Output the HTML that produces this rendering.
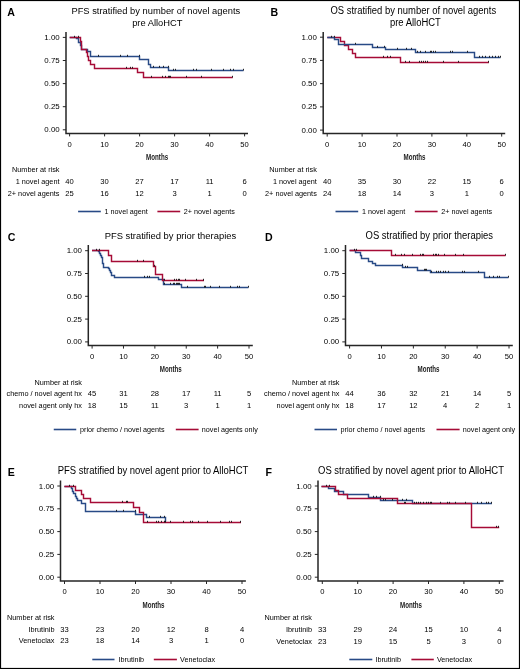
<!DOCTYPE html>
<html><head><meta charset="utf-8"><style>
html,body{margin:0;padding:0;background:#fff;}
body{width:520px;height:669px;overflow:hidden;}
svg{display:block;will-change:transform;filter:blur(0.3px);}
text{font-family:"Liberation Sans",sans-serif;fill:#000;}
.lab{font-size:10.6px;font-weight:bold;fill:#000;}
.tt{font-size:9.4px;text-anchor:middle;}
.yl{font-size:7.9px;text-anchor:end;}
.xl{font-size:7.6px;text-anchor:middle;}
.mo{font-size:9px;text-anchor:middle;font-weight:bold;fill:#222;}
.rl{font-size:7.3px;text-anchor:end;}
.rn{font-size:7.6px;text-anchor:middle;}
.lg{font-size:7.2px;}
.axl{stroke:#262626;stroke-width:1.5;fill:none;}
.tk{stroke:#262626;stroke-width:1;fill:none;}
.cv{stroke-width:1.45;fill:none;}
.cs{stroke:#111;stroke-width:0.9;fill:none;}
</style></head><body>
<svg width="520" height="669" viewBox="0 0 520 669">
<rect x="0.5" y="0.5" width="519" height="668" fill="#fff" stroke="#000" stroke-width="1.2"/>
<text x="7.3" y="16" class="lab">A</text>
<text transform="translate(155.8 14.3) scale(1 1.06)" class="tt" style="font-size:9.35px">PFS stratified by number of novel agents</text>
<text transform="translate(157.3 25.9) scale(1 1.06)" class="tt" style="font-size:9.35px">pre AlloHCT</text>
<path d="M66 32V133.4H248" class="axl"/>
<path d="M62.8 129.8H66" class="tk"/>
<text x="59.7" y="132.3" class="yl">0.00</text>
<path d="M62.8 106.7H66" class="tk"/>
<text x="59.7" y="109.2" class="yl">0.25</text>
<path d="M62.8 83.6H66" class="tk"/>
<text x="59.7" y="86.1" class="yl">0.50</text>
<path d="M62.8 60.5H66" class="tk"/>
<text x="59.7" y="63" class="yl">0.75</text>
<path d="M62.8 37.4H66" class="tk"/>
<text x="59.7" y="39.9" class="yl">1.00</text>
<path d="M69.6 133.4V136.4" class="tk"/>
<text x="69.6" y="146.8" class="xl">0</text>
<path d="M104.6 133.4V136.4" class="tk"/>
<text x="104.6" y="146.8" class="xl">10</text>
<path d="M139.6 133.4V136.4" class="tk"/>
<text x="139.6" y="146.8" class="xl">20</text>
<path d="M174.6 133.4V136.4" class="tk"/>
<text x="174.6" y="146.8" class="xl">30</text>
<path d="M209.6 133.4V136.4" class="tk"/>
<text x="209.6" y="146.8" class="xl">40</text>
<path d="M244.6 133.4V136.4" class="tk"/>
<text x="244.6" y="146.8" class="xl">50</text>
<text transform="translate(157.1 160.1) scale(0.69 1)" class="mo">Months</text>
<text x="59.5" y="172.1" class="rl">Number at risk</text>
<text x="59.5" y="184" class="rl">1 novel agent</text>
<text x="69.6" y="184" class="rn">40</text>
<text x="104.6" y="184" class="rn">30</text>
<text x="139.6" y="184" class="rn">27</text>
<text x="174.6" y="184" class="rn">17</text>
<text x="209.6" y="184" class="rn">11</text>
<text x="244.6" y="184" class="rn">6</text>
<text x="59.5" y="195.7" class="rl">2+ novel agents</text>
<text x="69.6" y="195.7" class="rn">25</text>
<text x="104.6" y="195.7" class="rn">16</text>
<text x="139.6" y="195.7" class="rn">12</text>
<text x="174.6" y="195.7" class="rn">3</text>
<text x="209.6" y="195.7" class="rn">1</text>
<text x="244.6" y="195.7" class="rn">0</text>
<path d="M78.1 211.5H100.8" stroke="#284a86" stroke-width="1.6" fill="none"/>
<text x="104.6" y="213.7" class="lg">1 novel agent</text>
<path d="M157.4 211.5H180.2" stroke="#a60b36" stroke-width="1.6" fill="none"/>
<text x="183.8" y="213.7" class="lg">2+ novel agents</text>
<path d="M69.7 37.5H76.5V38.5H78.5V42.5H80.5V45.5H81.5V49.5H87.5V51.5H90.5V56.5H139.5V59.5H148.5V64.5H150.5V67.5H168.5V70.5H243.5" stroke="#284a86" class="cv"/>
<path d="M69.7 37.5H80.5V41.5H81.5V49.5H86.5V52.5H87.5V56.5H88.5V60.5H90.5V64.5H94.5V68.5H137.5V72.5H143.5V77.5H232.7" stroke="#a60b36" class="cv"/>
<path d="M98.5 54.8v1.7M120.5 54.8v1.7M127.5 54.8v1.7M139.5 54.8v1.7M153.5 65.8v1.7M159.5 65.8v1.7M163.5 65.8v1.7M168.5 65.8v1.7M173.5 68.8v1.7M175.5 68.8v1.7M193.5 68.8v1.7M196.5 68.8v1.7M211.5 68.8v1.7M223.5 68.8v1.7M230.5 68.8v1.7M233.5 68.8v1.7M243.5 68.8v1.7M74.5 35.8v1.7M78.5 35.8v1.7M126.5 66.8v1.7M130.5 66.8v1.7M132.5 66.8v1.7M151.5 75.8v1.7M162.5 75.8v1.7M165.5 75.8v1.7M168.5 75.8v1.7M169.5 75.8v1.7M170.5 75.8v1.7M186.5 75.8v1.7M201.5 75.8v1.7M232.5 75.8v1.7" class="cs"/>
<text x="270.5" y="15.8" class="lab">B</text>
<text transform="translate(413.3 14.3) scale(1 1.06)" class="tt" style="font-size:9.45px">OS stratified by number of novel agents</text>
<text transform="translate(415.4 25.9) scale(1 1.06)" class="tt" style="font-size:9.45px">pre AlloHCT</text>
<path d="M323.2 32V133.6H505.2" class="axl"/>
<path d="M320 130.1H323.2" class="tk"/>
<text x="316.9" y="132.6" class="yl">0.00</text>
<path d="M320 106.88H323.2" class="tk"/>
<text x="316.9" y="109.38" class="yl">0.25</text>
<path d="M320 83.65H323.2" class="tk"/>
<text x="316.9" y="86.15" class="yl">0.50</text>
<path d="M320 60.42H323.2" class="tk"/>
<text x="316.9" y="62.92" class="yl">0.75</text>
<path d="M320 37.2H323.2" class="tk"/>
<text x="316.9" y="39.7" class="yl">1.00</text>
<path d="M327.2 133.6V136.6" class="tk"/>
<text x="327.2" y="147" class="xl">0</text>
<path d="M362.1 133.6V136.6" class="tk"/>
<text x="362.1" y="147" class="xl">10</text>
<path d="M397 133.6V136.6" class="tk"/>
<text x="397" y="147" class="xl">20</text>
<path d="M431.9 133.6V136.6" class="tk"/>
<text x="431.9" y="147" class="xl">30</text>
<path d="M466.8 133.6V136.6" class="tk"/>
<text x="466.8" y="147" class="xl">40</text>
<path d="M501.7 133.6V136.6" class="tk"/>
<text x="501.7" y="147" class="xl">50</text>
<text transform="translate(414.5 160.1) scale(0.69 1)" class="mo">Months</text>
<text x="316.8" y="172.1" class="rl">Number at risk</text>
<text x="316.8" y="184" class="rl">1 novel agent</text>
<text x="327.2" y="184" class="rn">40</text>
<text x="362.1" y="184" class="rn">35</text>
<text x="397" y="184" class="rn">30</text>
<text x="431.9" y="184" class="rn">22</text>
<text x="466.8" y="184" class="rn">15</text>
<text x="501.7" y="184" class="rn">6</text>
<text x="316.8" y="195.7" class="rl">2+ novel agents</text>
<text x="327.2" y="195.7" class="rn">24</text>
<text x="362.1" y="195.7" class="rn">18</text>
<text x="397" y="195.7" class="rn">14</text>
<text x="431.9" y="195.7" class="rn">3</text>
<text x="466.8" y="195.7" class="rn">1</text>
<text x="501.7" y="195.7" class="rn">0</text>
<path d="M335.5 211.5H358.2" stroke="#284a86" stroke-width="1.6" fill="none"/>
<text x="362" y="213.7" class="lg">1 novel agent</text>
<path d="M414.8 211.5H437.6" stroke="#a60b36" stroke-width="1.6" fill="none"/>
<text x="441.2" y="213.7" class="lg">2+ novel agents</text>
<path d="M327.3 37.5H340.5V41.5H344.5V45.5H348.5V49.5H352.5V53.5H355.5V57.5H400.5V62.5H488.9" stroke="#a60b36" class="cv"/>
<path d="M327.3 37.5H334.5V39.5H338.5V44.5H372.5V47.5H385.5V49.5H415.5V52.5H474.5V57.5H500.5" stroke="#284a86" class="cv"/>
<path d="M383.5 55.8v1.7M387.5 55.8v1.7M390.5 55.8v1.7M405.5 60.8v1.7M409.5 60.8v1.7M419.5 60.8v1.7M421.5 60.8v1.7M423.5 60.8v1.7M425.5 60.8v1.7M427.5 60.8v1.7M443.5 60.8v1.7M458.5 60.8v1.7M488.5 60.8v1.7M331.5 35.8v1.7M334.5 35.8v1.7M355.5 42.8v1.7M377.5 45.8v1.7M384.5 45.8v1.7M397.5 47.8v1.7M406.5 47.8v1.7M411.5 47.8v1.7M417.5 50.8v1.7M420.5 50.8v1.7M425.5 50.8v1.7M430.5 50.8v1.7M431.5 50.8v1.7M433.5 50.8v1.7M435.5 50.8v1.7M450.5 50.8v1.7M452.5 50.8v1.7M467.5 50.8v1.7M479.5 55.8v1.7M482.5 55.8v1.7M485.5 55.8v1.7M489.5 55.8v1.7M492.5 55.8v1.7M495.5 55.8v1.7M498.5 55.8v1.7M500.5 55.8v1.7" class="cs"/>
<text x="7.7" y="241.3" class="lab">C</text>
<text transform="translate(170.4 239.2) scale(1 1.06)" class="tt" style="font-size:9.4px">PFS stratified by prior therapies</text>
<path d="M88.3 245V345.6H252.8" class="axl"/>
<path d="M85.1 341.9H88.3" class="tk"/>
<text x="82" y="344.4" class="yl">0.00</text>
<path d="M85.1 319.1H88.3" class="tk"/>
<text x="82" y="321.6" class="yl">0.25</text>
<path d="M85.1 296.3H88.3" class="tk"/>
<text x="82" y="298.8" class="yl">0.50</text>
<path d="M85.1 273.5H88.3" class="tk"/>
<text x="82" y="276" class="yl">0.75</text>
<path d="M85.1 250.7H88.3" class="tk"/>
<text x="82" y="253.2" class="yl">1.00</text>
<path d="M92.1 345.6V348.6" class="tk"/>
<text x="92.1" y="359" class="xl">0</text>
<path d="M123.48 345.6V348.6" class="tk"/>
<text x="123.48" y="359" class="xl">10</text>
<path d="M154.86 345.6V348.6" class="tk"/>
<text x="154.86" y="359" class="xl">20</text>
<path d="M186.24 345.6V348.6" class="tk"/>
<text x="186.24" y="359" class="xl">30</text>
<path d="M217.62 345.6V348.6" class="tk"/>
<text x="217.62" y="359" class="xl">40</text>
<path d="M249 345.6V348.6" class="tk"/>
<text x="249" y="359" class="xl">50</text>
<text transform="translate(170.8 372.2) scale(0.69 1)" class="mo">Months</text>
<text x="82" y="384.9" class="rl">Number at risk</text>
<text x="82" y="396.3" class="rl">chemo / novel agent hx</text>
<text x="92.1" y="396.3" class="rn">45</text>
<text x="123.48" y="396.3" class="rn">31</text>
<text x="154.86" y="396.3" class="rn">28</text>
<text x="186.24" y="396.3" class="rn">17</text>
<text x="217.62" y="396.3" class="rn">11</text>
<text x="249" y="396.3" class="rn">5</text>
<text x="82" y="407.7" class="rl">novel agent only hx</text>
<text x="92.1" y="407.7" class="rn">18</text>
<text x="123.48" y="407.7" class="rn">15</text>
<text x="154.86" y="407.7" class="rn">11</text>
<text x="186.24" y="407.7" class="rn">3</text>
<text x="217.62" y="407.7" class="rn">1</text>
<text x="249" y="407.7" class="rn">1</text>
<path d="M53.75 429.5H76.25" stroke="#284a86" stroke-width="1.6" fill="none"/>
<text x="80" y="431.8" class="lg">prior chemo / novel agents</text>
<path d="M175.8 429.5H198.6" stroke="#a60b36" stroke-width="1.6" fill="none"/>
<text x="201.8" y="431.8" class="lg">novel agents only</text>
<path d="M92 250.5H98.5V251.5H99.5V253.5H100.5V255.5H101.5V257.5H102.5V260.5H102.5V263.5H103.5V267.5H108.5V268.5H109.5V270.5H110.5V272.5H111.5V275.5H114.5V277.5H158.5V279.5H163.5V284.5H181.5V287.5H248.4" stroke="#284a86" class="cv"/>
<path d="M92 250.5H108.5V255.5H111.5V261.5H153.5V266.5H155.5V274.5H162.5V280.5H204" stroke="#a60b36" class="cv"/>
<path d="M144.5 275.8v1.7M147.5 275.8v1.7M149.5 275.8v1.7M164.5 282.8v1.7M170.5 282.8v1.7M173.5 282.8v1.7M174.5 282.8v1.7M176.5 282.8v1.7M177.5 282.8v1.7M178.5 282.8v1.7M179.5 282.8v1.7M187.5 285.8v1.7M204.5 285.8v1.7M205.5 285.8v1.7M210.5 285.8v1.7M219.5 285.8v1.7M230.5 285.8v1.7M237.5 285.8v1.7M239.5 285.8v1.7M248.5 285.8v1.7M96.5 248.8v1.7M99.5 248.8v1.7M137.5 259.8v1.7M143.5 259.8v1.7M154.5 264.8v1.7M164.5 278.8v1.7M174.5 278.8v1.7M176.5 278.8v1.7M178.5 278.8v1.7M179.5 278.8v1.7M185.5 278.8v1.7M196.5 278.8v1.7M203.5 278.8v1.7" class="cs"/>
<text x="265" y="241.3" class="lab">D</text>
<text transform="translate(429.25 239.2) scale(1 1.06)" class="tt" style="font-size:9.45px">OS stratified by prior therapies</text>
<path d="M345.5 245V345.5H512.8" class="axl"/>
<path d="M342.3 341.9H345.5" class="tk"/>
<text x="339.2" y="344.4" class="yl">0.00</text>
<path d="M342.3 319.1H345.5" class="tk"/>
<text x="339.2" y="321.6" class="yl">0.25</text>
<path d="M342.3 296.3H345.5" class="tk"/>
<text x="339.2" y="298.8" class="yl">0.50</text>
<path d="M342.3 273.5H345.5" class="tk"/>
<text x="339.2" y="276" class="yl">0.75</text>
<path d="M342.3 250.7H345.5" class="tk"/>
<text x="339.2" y="253.2" class="yl">1.00</text>
<path d="M349.6 345.5V348.5" class="tk"/>
<text x="349.6" y="358.9" class="xl">0</text>
<path d="M381.48 345.5V348.5" class="tk"/>
<text x="381.48" y="358.9" class="xl">10</text>
<path d="M413.36 345.5V348.5" class="tk"/>
<text x="413.36" y="358.9" class="xl">20</text>
<path d="M445.24 345.5V348.5" class="tk"/>
<text x="445.24" y="358.9" class="xl">30</text>
<path d="M477.12 345.5V348.5" class="tk"/>
<text x="477.12" y="358.9" class="xl">40</text>
<path d="M509 345.5V348.5" class="tk"/>
<text x="509" y="358.9" class="xl">50</text>
<text transform="translate(428.5 372.2) scale(0.69 1)" class="mo">Months</text>
<text x="339.5" y="384.9" class="rl">Number at risk</text>
<text x="339.5" y="396.3" class="rl">chemo / novel agent hx</text>
<text x="349.6" y="396.3" class="rn">44</text>
<text x="381.48" y="396.3" class="rn">36</text>
<text x="413.36" y="396.3" class="rn">32</text>
<text x="445.24" y="396.3" class="rn">21</text>
<text x="477.12" y="396.3" class="rn">14</text>
<text x="509" y="396.3" class="rn">5</text>
<text x="339.5" y="407.7" class="rl">novel agent only hx</text>
<text x="349.6" y="407.7" class="rn">18</text>
<text x="381.48" y="407.7" class="rn">17</text>
<text x="413.36" y="407.7" class="rn">12</text>
<text x="445.24" y="407.7" class="rn">4</text>
<text x="477.12" y="407.7" class="rn">2</text>
<text x="509" y="407.7" class="rn">1</text>
<path d="M314.5 429.5H337" stroke="#284a86" stroke-width="1.6" fill="none"/>
<text x="340.5" y="431.8" class="lg">prior chemo / novel agents</text>
<path d="M436.5 429.5H459.6" stroke="#a60b36" stroke-width="1.6" fill="none"/>
<text x="462.8" y="431.8" class="lg">novel agent only</text>
<path d="M349.6 250.5H355.5V252.5H360.5V255.5H361.5V258.5H368.5V261.5H372.5V263.5H375.5V265.5H402.5V267.5H417.5V270.5H430.5V272.5H484.5V277.5H508.5" stroke="#284a86" class="cv"/>
<path d="M349.6 250.5H391.5V255.5H505.6" stroke="#a60b36" class="cv"/>
<path d="M402.5 263.8v1.7M405.5 265.8v1.7M407.5 265.8v1.7M424.5 268.8v1.7M425.5 268.8v1.7M426.5 268.8v1.7M431.5 270.8v1.7M436.5 270.8v1.7M438.5 270.8v1.7M440.5 270.8v1.7M443.5 270.8v1.7M445.5 270.8v1.7M448.5 270.8v1.7M462.5 270.8v1.7M464.5 270.8v1.7M478.5 270.8v1.7M489.5 275.8v1.7M493.5 275.8v1.7M497.5 275.8v1.7M499.5 275.8v1.7M508.5 275.8v1.7M354.5 248.8v1.7M356.5 248.8v1.7M395.5 253.8v1.7M401.5 253.8v1.7M404.5 253.8v1.7M412.5 253.8v1.7M420.5 253.8v1.7M422.5 253.8v1.7M423.5 253.8v1.7M433.5 253.8v1.7M435.5 253.8v1.7M436.5 253.8v1.7M438.5 253.8v1.7M444.5 253.8v1.7M455.5 253.8v1.7M463.5 253.8v1.7M505.5 253.8v1.7" class="cs"/>
<text x="7.7" y="475.8" class="lab">E</text>
<text transform="translate(153 474.4) scale(1 1.06)" class="tt" style="font-size:9.5px">PFS stratified by novel agent prior to AlloHCT</text>
<path d="M60.5 480.4V581H245.9" class="axl"/>
<path d="M57.3 577.2H60.5" class="tk"/>
<text x="54.2" y="579.7" class="yl">0.00</text>
<path d="M57.3 554.4H60.5" class="tk"/>
<text x="54.2" y="556.9" class="yl">0.25</text>
<path d="M57.3 531.6H60.5" class="tk"/>
<text x="54.2" y="534.1" class="yl">0.50</text>
<path d="M57.3 508.8H60.5" class="tk"/>
<text x="54.2" y="511.3" class="yl">0.75</text>
<path d="M57.3 486H60.5" class="tk"/>
<text x="54.2" y="488.5" class="yl">1.00</text>
<path d="M64.5 581V584" class="tk"/>
<text x="64.5" y="594.4" class="xl">0</text>
<path d="M100 581V584" class="tk"/>
<text x="100" y="594.4" class="xl">10</text>
<path d="M135.5 581V584" class="tk"/>
<text x="135.5" y="594.4" class="xl">20</text>
<path d="M171 581V584" class="tk"/>
<text x="171" y="594.4" class="xl">30</text>
<path d="M206.5 581V584" class="tk"/>
<text x="206.5" y="594.4" class="xl">40</text>
<path d="M242 581V584" class="tk"/>
<text x="242" y="594.4" class="xl">50</text>
<text transform="translate(153.5 607.5) scale(0.69 1)" class="mo">Months</text>
<text x="54.5" y="619.9" class="rl">Number at risk</text>
<text x="54.5" y="631.6" class="rl">Ibrutinib</text>
<text x="64.5" y="631.6" class="rn">33</text>
<text x="100" y="631.6" class="rn">23</text>
<text x="135.5" y="631.6" class="rn">20</text>
<text x="171" y="631.6" class="rn">12</text>
<text x="206.5" y="631.6" class="rn">8</text>
<text x="242" y="631.6" class="rn">4</text>
<text x="54.5" y="643" class="rl">Venetoclax</text>
<text x="64.5" y="643" class="rn">23</text>
<text x="100" y="643" class="rn">18</text>
<text x="135.5" y="643" class="rn">14</text>
<text x="171" y="643" class="rn">3</text>
<text x="206.5" y="643" class="rn">1</text>
<text x="242" y="643" class="rn">0</text>
<path d="M92.3 659.5H114.5" stroke="#284a86" stroke-width="1.6" fill="none"/>
<text x="118.5" y="662.1" class="lg">Ibrutinib</text>
<path d="M153.8 659.5H176.9" stroke="#a60b36" stroke-width="1.6" fill="none"/>
<text x="180" y="662.1" class="lg">Venetoclax</text>
<path d="M64.4 486.5H71.5V488.5H72.5V491.5H73.5V493.5H75.5V496.5H76.5V498.5H77.5V500.5H81.5V503.5H85.5V511.5H135.5V514.5H146.5V517.5H165.5V521.5H165.8" stroke="#284a86" class="cv"/>
<path d="M64.4 486.5H75.5V490.5H81.5V494.5H83.5V498.5H90.5V502.5H133.5V507.5H139.5V512.5H143.5V522.5H241" stroke="#a60b36" class="cv"/>
<path d="M116.5 509.8v1.7M123.5 509.8v1.7M135.5 509.8v1.7M149.5 515.8v1.7M160.5 515.8v1.7M164.5 515.8v1.7M69.5 484.8v1.7M73.5 484.8v1.7M122.5 500.8v1.7M126.5 500.8v1.7M127.5 500.8v1.7M147.5 520.8v1.7M156.5 520.8v1.7M158.5 520.8v1.7M161.5 520.8v1.7M164.5 520.8v1.7M165.5 520.8v1.7M170.5 520.8v1.7M183.5 520.8v1.7M190.5 520.8v1.7M192.5 520.8v1.7M198.5 520.8v1.7M207.5 520.8v1.7M220.5 520.8v1.7M229.5 520.8v1.7M231.5 520.8v1.7M240.5 520.8v1.7" class="cs"/>
<text x="265.5" y="475.8" class="lab">F</text>
<text transform="translate(411 474.4) scale(1 1.06)" class="tt" style="font-size:9.5px">OS stratified by novel agent prior to AlloHCT</text>
<path d="M318 480.4V581H503.6" class="axl"/>
<path d="M314.8 577.2H318" class="tk"/>
<text x="311.7" y="579.7" class="yl">0.00</text>
<path d="M314.8 554.4H318" class="tk"/>
<text x="311.7" y="556.9" class="yl">0.25</text>
<path d="M314.8 531.6H318" class="tk"/>
<text x="311.7" y="534.1" class="yl">0.50</text>
<path d="M314.8 508.8H318" class="tk"/>
<text x="311.7" y="511.3" class="yl">0.75</text>
<path d="M314.8 486H318" class="tk"/>
<text x="311.7" y="488.5" class="yl">1.00</text>
<path d="M322.3 581V584" class="tk"/>
<text x="322.3" y="594.4" class="xl">0</text>
<path d="M357.7 581V584" class="tk"/>
<text x="357.7" y="594.4" class="xl">10</text>
<path d="M393.1 581V584" class="tk"/>
<text x="393.1" y="594.4" class="xl">20</text>
<path d="M428.5 581V584" class="tk"/>
<text x="428.5" y="594.4" class="xl">30</text>
<path d="M463.9 581V584" class="tk"/>
<text x="463.9" y="594.4" class="xl">40</text>
<path d="M499.3 581V584" class="tk"/>
<text x="499.3" y="594.4" class="xl">50</text>
<text transform="translate(411 607.5) scale(0.69 1)" class="mo">Months</text>
<text x="312" y="619.9" class="rl">Number at risk</text>
<text x="312" y="631.6" class="rl">Ibrutinib</text>
<text x="322.3" y="631.6" class="rn">33</text>
<text x="357.7" y="631.6" class="rn">29</text>
<text x="393.1" y="631.6" class="rn">24</text>
<text x="428.5" y="631.6" class="rn">15</text>
<text x="463.9" y="631.6" class="rn">10</text>
<text x="499.3" y="631.6" class="rn">4</text>
<text x="312" y="643.8" class="rl">Venetoclax</text>
<text x="322.3" y="643.8" class="rn">23</text>
<text x="357.7" y="643.8" class="rn">19</text>
<text x="393.1" y="643.8" class="rn">15</text>
<text x="428.5" y="643.8" class="rn">5</text>
<text x="463.9" y="643.8" class="rn">3</text>
<text x="499.3" y="643.8" class="rn">0</text>
<path d="M349.3 659.5H372.3" stroke="#284a86" stroke-width="1.6" fill="none"/>
<text x="375.4" y="662.1" class="lg">Ibrutinib</text>
<path d="M411.4 659.5H433.8" stroke="#a60b36" stroke-width="1.6" fill="none"/>
<text x="436.9" y="662.1" class="lg">Venetoclax</text>
<path d="M321.5 486.5H328.5V488.5H334.5V491.5H343.5V494.5H368.5V497.5H380.5V500.5H412.5V503.5H491.9" stroke="#284a86" class="cv"/>
<path d="M321.5 486.5H335.5V490.5H338.5V494.5H347.5V498.5H397.5V503.5H471.5V527.5H499.2" stroke="#a60b36" class="cv"/>
<path d="M373.5 495.8v1.7M376.5 495.8v1.7M380.5 495.8v1.7M383.5 498.8v1.7M385.5 498.8v1.7M392.5 498.8v1.7M402.5 498.8v1.7M406.5 498.8v1.7M477.5 501.8v1.7M481.5 501.8v1.7M486.5 501.8v1.7M488.5 501.8v1.7M491.5 501.8v1.7M326.5 484.8v1.7M329.5 484.8v1.7M404.5 501.8v1.7M405.5 501.8v1.7M414.5 501.8v1.7M416.5 501.8v1.7M418.5 501.8v1.7M420.5 501.8v1.7M423.5 501.8v1.7M426.5 501.8v1.7M428.5 501.8v1.7M430.5 501.8v1.7M431.5 501.8v1.7M440.5 501.8v1.7M447.5 501.8v1.7M449.5 501.8v1.7M455.5 501.8v1.7M465.5 501.8v1.7M496.5 525.8v1.7M498.5 525.8v1.7" class="cs"/>
</svg>
</body></html>
